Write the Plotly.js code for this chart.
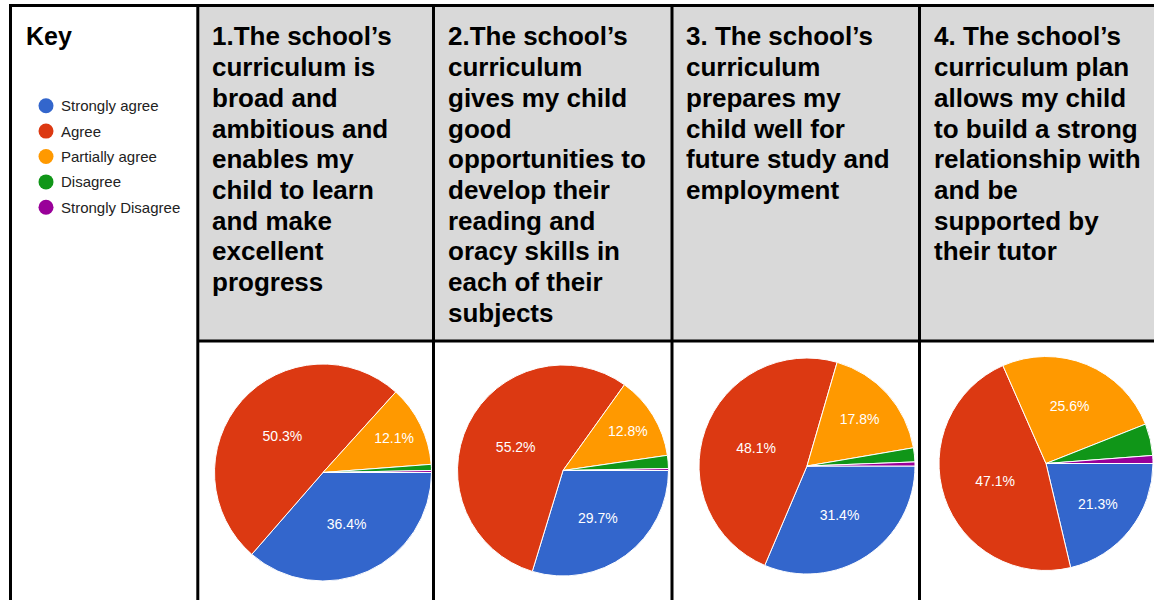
<!DOCTYPE html>
<html>
<head>
<meta charset="utf-8">
<script src="https://cdn.plot.ly/plotly-3.0.1.min.js"></script>
<style>
  html, body { margin: 0; padding: 0; background: #ffffff; }
  #chart { width: 1154px; height: 600px; }
</style>
</head>
<body>
<div id="chart"></div>
<script>
// ---------- data ----------
const categories = ['Strongly agree', 'Agree', 'Partially agree', 'Disagree', 'Strongly Disagree'];
const sliceColors = ['#3366cc', '#dc3912', '#ff9900', '#109618', '#990099'];

const q1Values = [36.4, 50.3, 12.1, 0.9, 0.3];
const q2Values = [29.7, 55.2, 12.8, 2.0, 0.3];
const q3Values = [31.4, 48.1, 17.8, 2.1, 0.6];
const q4Values = [21.3, 47.1, 25.6, 4.8, 1.2];

const q1Lines = ['1.The school\u2019s', 'curriculum is', 'broad and', 'ambitious and', 'enables my', 'child to learn', 'and make', 'excellent', 'progress'];
const q2Lines = ['2.The school\u2019s', 'curriculum', 'gives my child', 'good', 'opportunities to', 'develop their', 'reading and', 'oracy skills in', 'each of their', 'subjects'];
const q3Lines = ['3. The school\u2019s', 'curriculum', 'prepares my', 'child well for', 'future study and', 'employment'];
const q4Lines = ['4. The school\u2019s', 'curriculum plan', 'allows my child', 'to build a strong', 'relationship with', 'and be', 'supported by', 'their tutor'];

const keyTitle = 'Key';

// ---------- layout geometry (pixels) ----------
const W = 1154, H = 600;
const px = p => p / W;
const py = p => 1 - p / H;

const colBorders = [197.8, 433.5, 672, 919.5];   // vertical lines centres
const headerBottom = 341;
const pieGeom = [
  {cx: 323, cy: 472.5, r: 108.5},
  {cx: 563, cy: 470.5, r: 105.5},
  {cx: 807, cy: 466, r: 108},
  {cx: 1046, cy: 463.5, r: 107}
];

const allValues = [q1Values, q2Values, q3Values, q4Values];
const allLines = [q1Lines, q2Lines, q3Lines, q4Lines];

const FONT = 'Arial, "Liberation Sans", Helvetica, sans-serif';

// ---------- traces ----------
const traces = allValues.map((vals, i) => {
  const g = pieGeom[i];
  return {
    type: 'pie',
    values: vals,
    labels: categories,
    sort: false,
    direction: 'clockwise',
    rotation: 90,
    marker: {colors: sliceColors, line: {color: '#ffffff', width: 1}},
    texttemplate: vals.map(v => v >= 5 ? '%{percent:.1%}' : ''),
    textposition: 'inside',
    insidetextorientation: 'horizontal',
    insidetextfont: {family: FONT, size: 14, color: '#ffffff'},
    hoverinfo: 'label+percent',
    showlegend: false,
    domain: {
      x: [px(g.cx - g.r), px(g.cx + g.r)],
      y: [py(g.cy + g.r), py(g.cy - g.r)]
    }
  };
});

// legend markers (key)
const keyTop = 93, keyStep = 25.4;
traces.push({
  type: 'scatter',
  mode: 'markers',
  x: categories.map(() => 0),
  y: categories,
  marker: {color: sliceColors, size: 15, symbol: 'circle'},
  hoverinfo: 'skip',
  showlegend: false,
  xaxis: 'x',
  yaxis: 'y'
});

// ---------- annotations ----------
const annotations = [];
annotations.push({
  xref: 'paper', yref: 'paper',
  x: px(23.5), y: py(36),
  xanchor: 'left', yanchor: 'middle',
  text: '<b>' + keyTitle + '</b>',
  showarrow: false,
  font: {family: FONT, size: 25, color: '#000000'}
});
categories.forEach(c => {
  annotations.push({
    xref: 'x', yref: 'y',
    x: 0, y: c,
    xshift: 13,
    xanchor: 'left', yanchor: 'middle',
    text: c,
    showarrow: false,
    font: {family: FONT, size: 15, color: '#222222'}
  });
});
const lineStep = 30.67, firstMid = 36.5;
allLines.forEach((lines, ci) => {
  const xLeft = colBorders[ci] + 1.5 + 10.5;
  lines.forEach((ln, li) => {
    annotations.push({
      xref: 'paper', yref: 'paper',
      x: px(xLeft), y: py(firstMid + li * lineStep),
      xanchor: 'left', yanchor: 'middle',
      text: '<b>' + ln + '</b>',
      showarrow: false,
      font: {family: FONT, size: 26, color: '#000000'}
    });
  });
});

// ---------- shapes (table) ----------
const shapes = [];
shapes.push({type: 'rect', xref: 'paper', yref: 'paper', layer: 'below',
  x0: px(colBorders[0]), x1: px(W + 2), y0: py(headerBottom), y1: py(5),
  fillcolor: '#d9d9d9', line: {width: 0}});
const blk = {color: '#000000', width: 3};
shapes.push({type: 'line', xref: 'paper', yref: 'paper', x0: px(9), x1: px(W + 2), y0: py(5.5), y1: py(5.5), line: blk});
shapes.push({type: 'line', xref: 'paper', yref: 'paper', x0: px(10.5), x1: px(10.5), y0: py(4), y1: py(H + 2), line: blk});
colBorders.forEach(b => {
  shapes.push({type: 'line', xref: 'paper', yref: 'paper', x0: px(b), x1: px(b), y0: py(4), y1: py(H + 2), line: blk});
});
shapes.push({type: 'line', xref: 'paper', yref: 'paper', x0: px(colBorders[0]), x1: px(W + 2), y0: py(headerBottom), y1: py(headerBottom), line: blk});

const layout = {
  width: W, height: H,
  margin: {l: 0, r: 0, t: 0, b: 0, pad: 0},
  paper_bgcolor: '#ffffff',
  plot_bgcolor: 'rgba(0,0,0,0)',
  showlegend: false,
  font: {family: FONT},
  xaxis: {
    domain: [px(30), px(190)], range: [-1, 9],
    showgrid: false, zeroline: false, showticklabels: false, showline: false, ticks: '', fixedrange: true
  },
  yaxis: {
    domain: [py(keyTop + keyStep * categories.length), py(keyTop)],
    type: 'category',
    range: [categories.length - 0.5, -0.5],
    showgrid: false, zeroline: false, showticklabels: false, showline: false, ticks: '', fixedrange: true
  },
  shapes: shapes,
  annotations: annotations
};

Plotly.newPlot('chart', traces, layout, {displayModeBar: false, staticPlot: true});
</script>
</body>
</html>
